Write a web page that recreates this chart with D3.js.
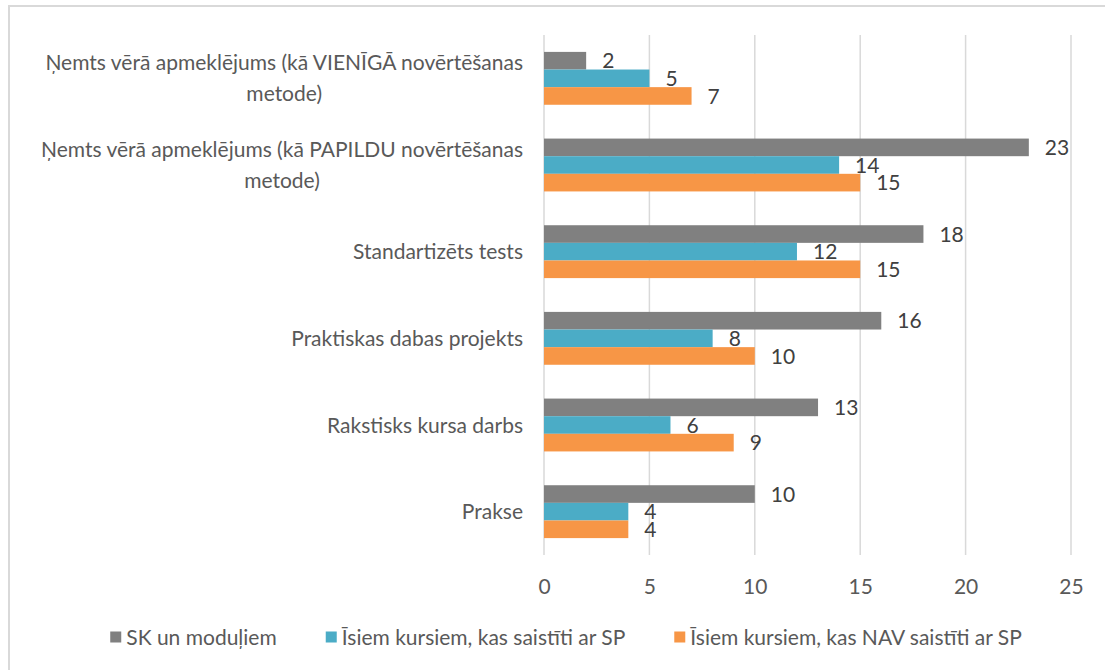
<!DOCTYPE html>
<html>
<head>
<meta charset="utf-8">
<script src="https://cdn.jsdelivr.net/npm/d3@7"></script>
<style>
  body { margin: 0; background: #fff; }
  text { font-family: Lato, "Open Sans", sans-serif; }
</style>
</head>
<body>
<div id="chart"></div>
<script>
// categories, top to bottom
var categories = [
  "Ņemts vērā apmeklējums (kā VIENĪGĀ novērtēšanas metode)",
  "Ņemts vērā apmeklējums (kā PAPILDU novērtēšanas metode)",
  "Standartizēts tests",
  "Praktiskas dabas projekts",
  "Rakstisks kursa darbs",
  "Prakse"
]
var seriesNames = [
  "SK un moduļiem",
  "Īsiem kursiem, kas saistīti ar SP",
  "Īsiem kursiem, kas NAV saistīti ar SP"
]
var skValues = [2, 23, 18, 16, 13, 10]
var saistitiValues = [5, 14, 12, 8, 6, 4]
var navSaistitiValues = [7, 15, 15, 10, 9, 4]
var xTicks = [0, 5, 10, 15, 20, 25]
var colors = ["#808080", "#4BACC6", "#F79646"]

var W = 1105, H = 670
var margin = { top: 35, right: 34, bottom: 115, left: 544 }
var width = W - margin.left - margin.right,
    height = H - margin.top - margin.bottom
var fs = "21px"

var svg = d3.select("#chart")
  .append("svg")
  .attr("width", W)
  .attr("height", H)

// chart frame (only top/left are visible in the crop)
svg.append("rect")
  .attr("x", 9).attr("y", 6)
  .attr("width", W + 20).attr("height", H + 20)
  .attr("fill", "none")
  .attr("stroke", "#d9d9d9")
  .attr("stroke-width", 2)

var g = svg.append("g")
  .attr("transform", "translate(" + margin.left + "," + margin.top + ")")

var x = d3.scaleLinear().domain([0, 25]).range([0, width])

var y = d3.scaleBand()
  .domain(categories)
  .range([0, height])
  .paddingInner(0.39)
  .paddingOuter(0.195)

var ySub = d3.scaleBand()
  .domain([0, 1, 2])
  .range([0, y.bandwidth()])

// gridlines
g.selectAll(".grid")
  .data(xTicks)
  .enter().append("line")
  .attr("x1", d => x(d)).attr("x2", d => x(d))
  .attr("y1", 0).attr("y2", height)
  .attr("stroke", "#d9d9d9")
  .attr("stroke-width", 1.5)

// x tick labels
var xAxis = g.append("g")
  .attr("transform", "translate(0," + height + ")")
  .call(d3.axisBottom(x).tickValues(xTicks).tickSize(0).tickPadding(24))
xAxis.select(".domain").remove()
xAxis.selectAll("text")
  .attr("fill", "#595959")
  .style("font-size", fs)
  .style("font-family", "Lato, 'Open Sans', sans-serif")

var rows = categories.map(function(c, i) {
  return { cat: c, values: [skValues[i], saistitiValues[i], navSaistitiValues[i]] }
})

var groups = g.selectAll(".grp")
  .data(rows)
  .enter().append("g")
  .attr("transform", d => "translate(0," + y(d.cat) + ")")

groups.selectAll("rect")
  .data(d => d.values)
  .enter().append("rect")
  .attr("x", 0)
  .attr("y", (d, i) => ySub(i))
  .attr("width", d => x(d))
  .attr("height", ySub.bandwidth())
  .attr("fill", (d, i) => colors[i])

groups.selectAll(".val")
  .data(d => d.values)
  .enter().append("text")
  .attr("x", d => x(d) + 16)
  .attr("y", (d, i) => ySub(i) + ySub.bandwidth() / 2)
  .attr("dy", "0.36em")
  .attr("fill", "#404040")
  .style("font-size", fs)
  .text(d => d)

// category labels, wrapped and centered inside a right-aligned block
var labelRight = -21, wrapWidth = 510, lineH = 31
var measure = svg.append("text").style("font-size", fs)
function textW(s) { measure.text(s); return measure.node().getComputedTextLength() }

categories.forEach(function(c) {
  var words = c.split(" "), lines = [], cur = ""
  words.forEach(function(w) {
    var t = cur ? cur + " " + w : w
    if (cur && textW(t) > wrapWidth) { lines.push(cur); cur = w } else cur = t
  })
  lines.push(cur)
  var blockW = d3.max(lines, textW)
  var cy = y(c) + y.bandwidth() / 2
  var t = g.append("text")
    .attr("text-anchor", "middle")
    .attr("fill", "#595959")
    .style("font-size", fs)
  lines.forEach(function(l, i) {
    t.append("tspan")
      .attr("x", labelRight - blockW / 2)
      .attr("y", cy + (i - (lines.length - 1) / 2) * lineH)
      .attr("dy", "0.36em")
      .text(l)
  })
})

// legend
var legY = 637, sq = 11, gapText = 5, gapItem = 49
var widths = seriesNames.map(textW)
measure.remove()
var total = d3.sum(widths) + seriesNames.length * (sq + gapText) + gapItem * (seriesNames.length - 1)
var lx = 566 - total / 2
seriesNames.forEach(function(n, i) {
  svg.append("rect")
    .attr("x", lx).attr("y", legY - sq / 2)
    .attr("width", sq).attr("height", sq)
    .attr("fill", colors[i])
  svg.append("text")
    .attr("x", lx + sq + gapText)
    .attr("y", legY)
    .attr("dy", "0.36em")
    .attr("fill", "#595959")
    .style("font-size", fs)
    .text(n)
  lx += sq + gapText + widths[i] + gapItem
})
</script>
</body>
</html>
